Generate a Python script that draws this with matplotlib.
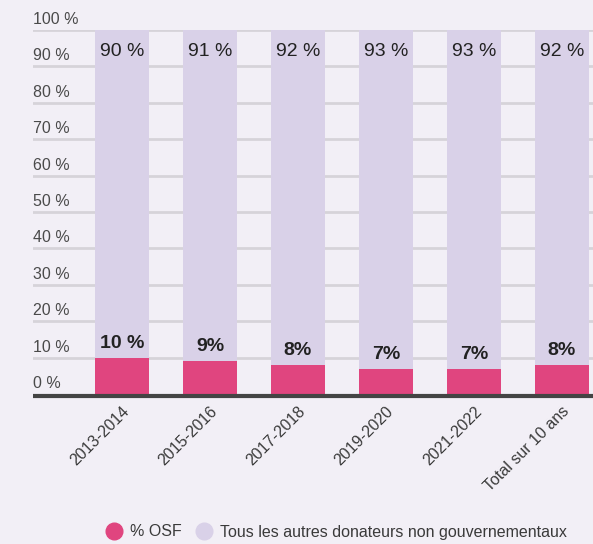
import matplotlib
matplotlib.use("Agg")
import matplotlib.pyplot as plt
from matplotlib.lines import Line2D
import matplotlib.transforms as mtransforms

plt.rcParams['font.family'] = ['Liberation Sans', 'DejaVu Sans']

categories = ["2013-2014", "2015-2016", "2017-2018", "2019-2020", "2021-2022", "Total sur 10 ans"]
osf = [10, 9, 8, 7, 7, 8]
others = [90, 91, 92, 93, 93, 92]
osf_labels = ["10 %", "9%", "8%", "7%", "7%", "8%"]
other_labels = ["90 %", "91 %", "92 %", "93 %", "93 %", "92 %"]
yticks = [0, 10, 20, 30, 40, 50, 60, 70, 80, 90, 100]
ytick_labels = [f"{v} %" for v in yticks]

bg = "#f2eff6"
pink = "#e0457f"
lav = "#d9d1e8"
grid = "#d6d3d9"

W, H = 593, 544
fig = plt.figure(figsize=(W / 100, H / 100), dpi=100, facecolor=bg)
ax = fig.add_axes([33 / W, (H - 394) / H, (593 - 33) / W, (394 - 30) / H])
ax.set_facecolor(bg)

x = list(range(len(categories)))
ax.bar(x, osf, width=0.614, color=pink, zorder=3)
ax.bar(x, others, bottom=osf, width=0.614, color=lav, zorder=3)

xl = (-89 / 88, 5 + 31 / 88)
ax.set_xlim(*xl)
ax.set_ylim(0, 100)

for v in yticks[1:]:
    ax.axhline(v, color=grid, lw=2.0, zorder=1)
base_tr = mtransforms.offset_copy(ax.transData, fig=fig, x=0, y=-2, units='dots')
ax.plot([xl[0], xl[1] + 1], [0, 0], color="#444444", lw=3.0, transform=base_tr, zorder=4,
        clip_on=False, solid_capstyle='butt')

for s in ax.spines.values():
    s.set_visible(False)
ax.set_yticks([])
ax.tick_params(axis='x', length=0)

t = mtransforms.blended_transform_factory(ax.transAxes, ax.transData)
for v, lab in zip(yticks, ytick_labels):
    ax.text(0, v, lab, transform=mtransforms.offset_copy(t, fig=fig, x=0, y=3, units='dots'),
            ha='left', va='bottom', fontsize=11.5, color="#4a4a4a")

for xi, o, ol, otl in zip(x, osf, osf_labels, other_labels):
    ax.text(xi, o, ol, transform=mtransforms.offset_copy(ax.transData, fig=fig, x=0, y=6, units='dots'),
            ha='center', va='bottom', fontsize=14, fontweight='bold', color="#222222", zorder=5)
    ax.text(xi, 94, otl, ha='center', va='center', fontsize=14, color="#222222", zorder=5)

ax.set_xticks(x)
ax.set_xticklabels(categories, rotation=45, ha='right', va='top', rotation_mode='anchor',
                   fontsize=11.5, color="#3a3a3a")
ax.tick_params(axis='x', pad=7)

handles = [Line2D([], [], marker='o', ls='', markersize=12, markerfacecolor=pink, markeredgecolor=pink),
           Line2D([], [], marker='o', ls='', markersize=12, markerfacecolor=lav, markeredgecolor=lav)]
fig.legend(handles, ["% OSF", "Tous les autres donateurs non gouvernementaux"],
           loc='center', bbox_to_anchor=(336 / W, 1 - 532 / H), ncol=2, frameon=False,
           fontsize=11.5, handletextpad=0.5, columnspacing=0.9, handlelength=1.0,
           labelcolor="#3a3a3a")

fig.savefig("out.png", dpi=100, facecolor=bg)
